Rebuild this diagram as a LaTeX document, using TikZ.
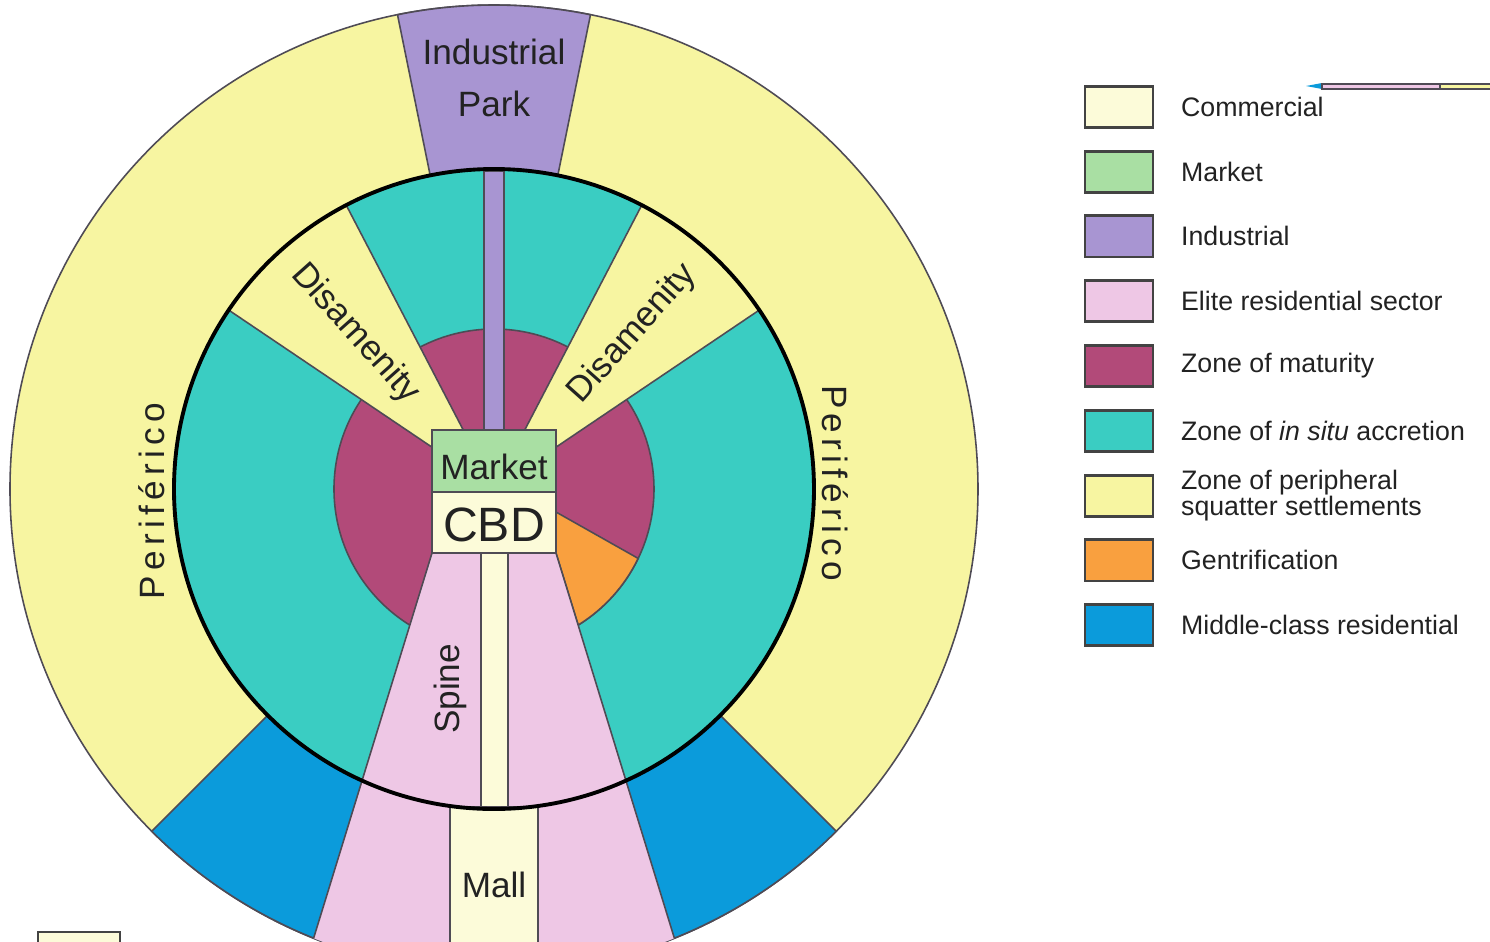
\documentclass[tikz,border=0pt]{standalone}
\usepackage{fontspec}
\setmainfont{Liberation Sans}
\usetikzlibrary{positioning}
\definecolor{squatter}{HTML}{F7F5A1}
\definecolor{commercial}{HTML}{FCFBD9}
\definecolor{market}{HTML}{A9DFA3}
\definecolor{industrial}{HTML}{A895D2}
\definecolor{elite}{HTML}{EEC7E5}
\definecolor{maturity}{HTML}{B24A79}
\definecolor{insitu}{HTML}{3ACDC2}
\definecolor{gentrify}{HTML}{F9A03F}
\definecolor{middle}{HTML}{0B9BDB}
\definecolor{edgegray}{HTML}{4F4B55}
\definecolor{ink}{HTML}{222222}

\begin{document}
\begin{tikzpicture}[x=0.01cm, y=0.01cm,
  zone/.style={draw=edgegray, line width=0.45pt},
  lab/.style={text=ink, font=\fontsize{10}{12}\selectfont, inner sep=0pt},
  spaced/.style={font=\fontsize{10}{12}\selectfont\addfontfeature{LetterSpace=15}},
  keybox/.style={draw=ink!85, line width=0.8pt, minimum width=0.68cm, minimum height=0.41cm, inner sep=0pt},
  keytext/.style={text=ink, font=\fontsize{7.6}{7.4}\selectfont, align=left, inner sep=0pt, anchor=west}]
\useasboundingbox (-494,-452) rectangle (996,489);
\clip (-494,-452) rectangle (996,489);

% outer ring: squatter settlements, industrial park, middle class
\draw[zone, fill=squatter] (0,0) circle[radius=484];
\draw[zone, fill=industrial] (78.5:320) arc[start angle=78.5, end angle=101.5, radius=320] -- (101.5:484) arc[start angle=101.5, end angle=78.5, radius=484] -- cycle;
\draw[zone, fill=middle] (225:320) -- (225:484) arc[start angle=225, end angle=265, radius=484] -- (265:320) arc[start angle=265, end angle=225, radius=320] -- cycle;
\draw[zone, fill=middle] (315:320) -- (315:484) arc[start angle=315, end angle=275, radius=484] -- (275:320) arc[start angle=275, end angle=315, radius=320] -- cycle;

% inner zones
\draw[zone, fill=insitu] (0,0) circle[radius=320];
\draw[zone, fill=maturity] (0,0) circle[radius=160];
\draw[zone, fill=squatter] (0,0) -- (34:320) arc[start angle=34, end angle=62.5, radius=320] -- cycle;
\draw[zone, fill=squatter] (0,0) -- (117.5:320) arc[start angle=117.5, end angle=146, radius=320] -- cycle;
\draw[zone, fill=gentrify] (62,-23) -- (-25.7:160) arc[start angle=-25.7, end angle=-58.25, radius=160] -- (62,-64) -- cycle;

% elite sector with spine and mall
\begin{scope}
  \clip (0,0) circle[radius=484];
  \draw[zone, fill=elite] (-62,-64) -- (62,-64) -- (196,-500) -- (-196,-500) -- cycle;
\end{scope}
\draw[zone, fill=commercial] (-13,-64) rectangle (14,-322);
\draw[zone, fill=commercial] (-44,-318) rectangle (44,-470);
\draw[zone, fill=industrial] (-10,59) rectangle (10,318);

% market and CBD
\draw[zone, fill=market] (-62,-3) rectangle (62,59);
\draw[zone, fill=commercial] (-62,-64) rectangle (62,-3);

\draw[line width=1.1pt] (0,0) circle[radius=320];

\node[lab, align=center, font=\fontsize{10}{14.8}\selectfont] (parklabel) at (0,411) {Industrial\\Park};
\node[lab] (marketlabel) at (0,22) {Market};
\node[lab, font=\fontsize{13.7}{16}\selectfont] (cbdlabel) at (0,-36) {CBD};
\node[lab, rotate=90] (spinelabel) at (-44,-200) {Spine};
\node[lab] (malllabel) at (0,-396) {Mall};
\node[lab, rotate=-48.25] (disleft) at (131.75:208) {Disamenity};
\node[lab, rotate=48.25] (disright) at (48.25:208) {Disamenity};
\node[lab, spaced, rotate=90] (periwest) at (-342,-12) {Periférico};
\node[lab, spaced, rotate=-90] (perieast) at (341,6) {Periférico};

% key
\foreach \tone/\entry [count=\i] in {commercial/Commercial, market/Market, industrial/Industrial,
    elite/Elite residential sector, maturity/Zone of maturity, insitu/{Zone of \textit{in situ} accretion},
    squatter/{Zone of peripheral\\squatter settlements}, gentrify/Gentrification, middle/Middle-class residential}
{
  \node[keybox, fill=\tone] (key\i) at (625,447-64.8*\i) {};
  \node[keytext, right=0.26cm of key\i] (entry\i) {\entry};
}

% bits of neighbouring figures
\fill[middle] (812,403) -- (828,406) -- (828,400) -- cycle;
\draw[zone, fill=elite] (828,400) rectangle (946,405);
\draw[zone, fill=squatter] (946,400) rectangle (1000,405);
\draw[draw=ink!85, line width=0.8pt, fill=commercial] (-456,-443) rectangle (-374,-480);
\end{tikzpicture}
\end{document}
